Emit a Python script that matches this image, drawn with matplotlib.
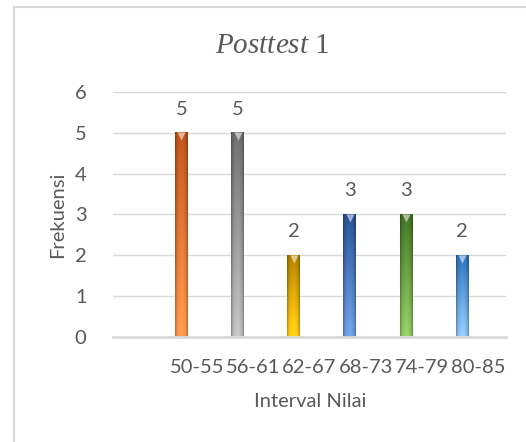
import numpy as np
import matplotlib
matplotlib.use("Agg")
import matplotlib.pyplot as plt
from matplotlib.lines import Line2D
from matplotlib.colors import to_rgb

# data
categories = ["50-55", "56-61", "62-67", "68-73", "74-79", "80-85"]
frekuensi = [5, 5, 2, 3, 3, 2]
# (top colour, bottom colour) for each cylinder
bar_colors = [("#b4501a", "#f5914a"),
              ("#686868", "#b8b8b8"),
              ("#a97c00", "#ffc814"),
              ("#264d8c", "#6c98dc"),
              ("#3f6d22", "#8cc460"),
              ("#2a6db0", "#8cc0ee")]

plt.rcParams["font.family"] = ["Lato", "DejaVu Sans"]
plt.rcParams["mathtext.fontset"] = "custom"
plt.rcParams["mathtext.it"] = "Liberation Serif:italic"
plt.rcParams["mathtext.rm"] = "Liberation Serif"

TXT = "#595959"
GRID = "#d9d9d9"
FS = 14.5

fig = plt.figure(figsize=(5.26, 4.42), dpi=100)
ax = fig.add_axes([113 / 526, 1 - 337 / 442, 393 / 526, 245 / 442])

# first category slot is empty in the original, bars sit left of slot centre
pos = np.arange(1, len(categories) + 1)
bar_x = pos - 0.28
width = 0.23

# cylinder shading across the bar
u = np.linspace(-1, 1, 24)
shade = 0.72 + 0.38 * (1 - u ** 2) ** 0.6
for x, v, (top, bot) in zip(bar_x, frekuensi, bar_colors):
    t = np.linspace(0, 1, 60)[:, None, None]
    col = np.array(to_rgb(top)) * (1 - t) + np.array(to_rgb(bot)) * t
    img = np.clip(col * shade[None, :, None], 0, 1)
    ax.imshow(img, extent=[x - width / 2, x + width / 2, 0, v],
              aspect="auto", origin="upper", zorder=3, interpolation="bilinear")
    ax.plot([x], [v - 0.08], marker="v", ms=6, color="white", alpha=0.55,
            mec="none", zorder=4)
    ax.annotate(str(v), (x, v), xytext=(0, 17), textcoords="offset points",
                ha="center", va="center", fontsize=FS, color=TXT)

ax.set_xlim(-0.5, 6.5)
ax.set_ylim(0, 6)
ax.set_yticks(range(0, 7))
ax.set_xticks(pos)
ax.set_xticklabels(categories)
ax.tick_params(axis="both", length=0, labelsize=FS, labelcolor=TXT)
ax.tick_params(axis="x", pad=16)
ax.tick_params(axis="y", pad=19)
ax.grid(axis="y", color=GRID, linewidth=1, zorder=0)
ax.set_axisbelow(True)
for s in ["top", "right", "left"]:
    ax.spines[s].set_visible(False)
ax.spines["bottom"].set_color(GRID)
ax.spines["bottom"].set_linewidth(2)
ax.spines["bottom"].set_zorder(5)

ax.set_xlabel("Interval Nilai", fontsize=FS, color=TXT, va="center")
ax.set_ylabel("Frekuensi", fontsize=FS, color=TXT, va="center")
ax.xaxis.set_label_coords(0.501, -0.265)
ax.yaxis.set_label_coords(-0.14, 0.5)

fig.text(272 / 526, 1 - 53 / 442, r"$\mathit{Posttest}$ 1", ha="center",
         va="baseline", fontsize=21, color=TXT, family="Liberation Serif")

# chart border (only left and top edges visible in the crop)
fig.add_artist(Line2D([13.5 / 526, 13.5 / 526], [0, 1 - 6.5 / 442],
                      transform=fig.transFigure, color=GRID, lw=1.5))
fig.add_artist(Line2D([13.5 / 526, 1], [1 - 6.5 / 442, 1 - 6.5 / 442],
                      transform=fig.transFigure, color=GRID, lw=1.5))

fig.savefig("out.png", dpi=100)
